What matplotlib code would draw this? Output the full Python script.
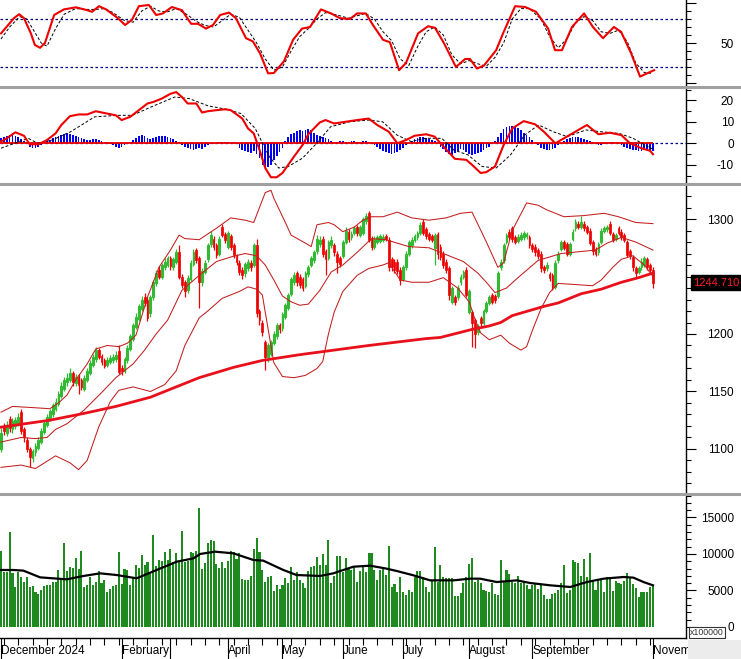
import numpy as np
import matplotlib
matplotlib.use('Agg')
import matplotlib.pyplot as plt
from matplotlib.lines import Line2D
from matplotlib.patches import Rectangle

plt.rcParams['font.family'] = ['Liberation Sans', 'DejaVu Sans']

# ---- daily candles (one per trading day) ----
opens = [1100,1120,1114,1126,1117,1120,1123,1132,1117,1108,
         1100,1092,1097,1101,1106,1115,1121,1126,1130,1135,
         1139,1146,1152,1158,1160,1166,1157,1163,1160,1152,
         1160,1166,1173,1178,1186,1181,1177,1173,1176,1177,
         1178,1185,1170,1168,1177,1187,1196,1206,1213,1222,
         1232,1230,1218,1232,1244,1256,1250,1258,1260,1266,
         1258,1263,1271,1250,1245,1238,1248,1261,1273,1266,
         1245,1254,1265,1278,1283,1277,1270,1293,1287,1276,
         1285,1277,1268,1262,1256,1253,1257,1262,1260,1277,
         1220,1210,1193,1180,1183,1192,1198,1208,1205,1215,
         1223,1235,1245,1253,1250,1248,1242,1252,1260,1264,
         1272,1278,1283,1272,1266,1277,1277,1270,1266,1268,
         1280,1289,1284,1288,1293,1286,1288,1298,1305,1283,
         1276,1280,1281,1282,1285,1282,1265,1263,1263,1256,
         1248,1258,1270,1277,1282,1284,1288,1297,1291,1287,
         1285,1275,1287,1276,1270,1263,1257,1228,1232,1232,
         1245,1250,1256,1219,1219,1212,1202,1214,1210,1220,
         1227,1234,1233,1233,1258,1264,1280,1289,1292,1284,
         1281,1283,1284,1285,1284,1277,1276,1273,1270,1258,
         1257,1252,1251,1241,1264,1274,1280,1278,1270,1283,
         1292,1296,1293,1296,1293,1290,1280,1274,1271,1280,
         1290,1291,1296,1287,1283,1292,1289,1286,1280,1272,
         1267,1257,1254,1258,1260,1265,1260,1256]
highs = [1118,1123,1124,1129,1127,1128,1131,1135,1119,1110,
         1102,1100,1105,1110,1118,1125,1130,1135,1140,1144,
         1150,1158,1163,1166,1170,1168,1165,1165,1162,1164,
         1170,1177,1183,1189,1188,1183,1179,1180,1182,1183,
         1185,1190,1173,1180,1190,1200,1210,1218,1226,1233,
         1236,1232,1234,1247,1256,1259,1262,1266,1268,1268,
         1267,1274,1277,1252,1247,1251,1264,1274,1275,1268,
         1257,1264,1279,1290,1285,1279,1285,1296,1289,1290,
         1287,1279,1270,1264,1258,1263,1265,1264,1279,1283,
         1222,1212,1195,1192,1195,1203,1210,1210,1219,1227,
         1236,1250,1254,1255,1252,1250,1255,1260,1268,1273,
         1286,1285,1285,1274,1282,1285,1279,1272,1268,1282,
         1293,1291,1290,1294,1295,1295,1302,1305,1307,1285,
         1285,1286,1287,1287,1287,1284,1267,1265,1265,1258,
         1260,1272,1282,1284,1287,1290,1297,1300,1293,1289,
         1287,1288,1289,1278,1272,1265,1259,1242,1234,1243,
         1252,1256,1258,1239,1221,1214,1209,1216,1222,1229,
         1234,1236,1235,1255,1265,1279,1288,1291,1294,1286,
         1287,1289,1290,1289,1286,1279,1278,1275,1272,1260,
         1263,1254,1253,1264,1272,1282,1282,1280,1280,1291,
         1300,1298,1303,1298,1295,1292,1282,1276,1280,1292,
         1294,1295,1298,1289,1288,1294,1291,1288,1282,1274,
         1269,1259,1259,1266,1268,1267,1262,1258]
lows = [1097,1112,1111,1115,1114,1117,1120,1113,1106,1097,
        1084,1089,1094,1099,1104,1113,1119,1124,1128,1133,
        1137,1144,1150,1155,1158,1155,1155,1148,1151,1150,
        1158,1164,1171,1176,1178,1173,1170,1171,1174,1175,
        1176,1165,1164,1166,1175,1185,1194,1204,1211,1220,
        1224,1211,1215,1230,1242,1248,1248,1256,1258,1256,
        1256,1261,1248,1240,1232,1236,1246,1259,1262,1223,
        1242,1252,1263,1276,1273,1266,1268,1284,1279,1274,
        1273,1266,1260,1251,1248,1250,1255,1255,1258,1215,
        1208,1198,1169,1176,1181,1190,1196,1201,1203,1213,
        1221,1233,1243,1242,1240,1237,1240,1250,1258,1262,
        1270,1276,1267,1251,1264,1275,1268,1253,1258,1266,
        1278,1280,1282,1286,1285,1284,1286,1296,1280,1273,
        1274,1278,1279,1280,1281,1255,1255,1253,1252,1243,
        1246,1256,1268,1275,1280,1282,1286,1286,1283,1281,
        1280,1260,1265,1264,1257,1253,1230,1226,1225,1230,
        1243,1248,1232,1217,1189,1188,1199,1207,1208,1218,
        1225,1226,1227,1231,1256,1262,1278,1282,1280,1278,
        1279,1281,1282,1283,1275,1271,1268,1265,1254,1253,
        1255,1246,1238,1239,1262,1272,1273,1268,1268,1281,
        1290,1291,1291,1290,1287,1277,1269,1268,1269,1278,
        1288,1289,1286,1280,1281,1286,1282,1280,1267,1265,
        1255,1250,1252,1256,1258,1256,1254,1240]
closes = [1114,1116,1121,1118,1124,1125,1128,1116,1110,1100,
          1093,1098,1103,1108,1116,1123,1128,1133,1138,1141,
          1148,1155,1160,1162,1166,1158,1163,1156,1154,1162,
          1168,1175,1180,1186,1180,1176,1172,1177,1179,1180,
          1182,1167,1168,1178,1188,1198,1208,1215,1224,1230,
          1227,1214,1232,1245,1253,1250,1260,1263,1266,1259,
          1265,1271,1250,1243,1237,1249,1262,1271,1264,1245,
          1255,1262,1277,1286,1276,1269,1283,1286,1282,1288,
          1276,1269,1263,1254,1251,1261,1263,1258,1277,1218,
          1212,1202,1180,1190,1193,1200,1208,1204,1217,1225,
          1234,1248,1251,1245,1243,1240,1253,1258,1266,1271,
          1283,1282,1270,1265,1280,1282,1271,1263,1261,1280,
          1290,1283,1287,1292,1288,1293,1300,1303,1282,1276,
          1283,1284,1285,1284,1283,1258,1258,1256,1255,1247,
          1258,1270,1280,1282,1285,1288,1295,1288,1285,1283,
          1282,1286,1270,1267,1260,1256,1234,1240,1228,1240,
          1250,1254,1234,1237,1210,1200,1207,1210,1220,1227,
          1232,1228,1230,1253,1263,1277,1286,1284,1283,1280,
          1284,1286,1288,1287,1277,1274,1271,1268,1257,1256,
          1260,1249,1241,1262,1270,1280,1275,1270,1278,1289,
          1297,1293,1297,1292,1289,1279,1272,1270,1278,1290,
          1292,1293,1288,1282,1286,1288,1284,1282,1269,1268,
          1258,1253,1257,1263,1266,1258,1256,1244.71]

volume = [10400,7580,7580,13060,7350,5520,7580,6800,6210,6900,
          5520,5600,4800,4520,5070,5600,5750,5750,6210,6210,
          7800,6440,11550,7700,8170,8030,9400,7900,10400,5520,
          5750,6900,5750,6210,7700,6070,6440,4840,5160,5600,
          5750,10320,5890,7900,7800,5750,6800,8490,8030,9860,
          8490,8950,7580,12600,8360,9180,9090,10320,9180,10640,
          8950,10090,8950,13200,8950,9090,10320,10180,10460,16250,
          7990,8720,11460,11920,11830,8630,8030,8950,8030,9090,
          10400,10320,9270,10090,6530,6440,6440,6990,10640,12150,
          10320,7800,6210,6800,6990,4980,5750,5200,5750,6670,
          6070,8170,6440,7580,6440,6070,5300,7670,8170,8360,
          9630,8490,10000,8490,11920,6070,6990,9730,9730,7580,
          9400,7900,7800,8260,6210,7700,8490,7580,10090,10090,
          7800,6440,7800,8170,7120,11100,5520,5890,4840,6800,
          4840,4380,5070,4840,6900,7700,7700,6800,5520,4840,
          6350,11000,6210,8490,6900,6670,6670,6670,4250,4250,
          4610,5980,6800,8630,9400,6210,6440,5980,5070,4980,
          4840,6070,4520,4380,9180,6210,7800,7260,6210,5980,
          6990,5980,6350,5750,5160,5750,5980,5160,5890,4380,
          3790,3790,4520,4610,5070,5980,8490,4700,5070,9180,
          8950,8810,6990,9270,6800,10090,6350,5070,6440,6530,
          4840,6800,6800,4980,6350,6070,5890,6350,7350,6800,
          5890,5300,4160,4840,4840,4840,5520,5750]

macd_hist = [2.5,3,3.5,4,4,3.5,3,2,1,
             -0.5,-1.5,-2,-2,-1.5,-1,0.5,
             1,1.5,2.5,3,3.5,4,4.5,5,4.5,4,3.5,3,
             2.5,2,1.5,1.5,2,2,1.5,1,0.5,0.5,
             -0.5,-1,-1.5,-2,-1.5,-1,-0.5,0.5,
             1.5,2.5,3.5,4,3.5,2.5,2,2.5,3,3.5,3.5,3.5,3,2.5,2,1,0.5,
             -1,-1.5,-2,-2.5,-3,-2.5,-2,-2.5,-1.5,-1,-0.5,-0.5,0,
             0.5,0.5,0.5,0.5,0,0.5,-0.5,
             -2,-3,-3.5,-4,-4.5,-3.5,-5,
             -7,-10,-11,-11,-10,-8,
             -6,-4,-2,
             1,3,4.5,5,5.5,6,5.5,6,6.5,6,5,4,3.5,3,2.5,2,1,
             0.5,0.5,1,1,0.5,0.5,1,1,0.5,0.5,1,1,0.5,0,
             -1,-1.5,-2.5,-3.5,-4,-4.5,-5,-4.5,-4,-3,-2,-1,0,
             1,2,2.5,3,3,2.5,2,1.5,1,0,
             -1.5,-2.5,-4,-5,-5.5,-4.5,-3.5,-2.5,-3,-4,-5,-5.5,-5,-4.5,-4,-3,-2,-1.5,-0.5,
             1,3,5,6.5,7.5,8,8,7.5,7,6,5,4,3,1.5,
             0,-1,-2,-2.5,-3,-3,-2.5,-2,-1,0,
             1,2,2.5,3,3,3,2.5,2,1.5,1,0.5,
             -0.5,-1,-1,-0.5,0,0.5,0.5,0,-0.5,-1,-1.5,-2,
             -2.5,-3,-3,-3.5,-3.5,-3,-3,-3.5,-3.5]

# ---- indicator curves read at sample days ----
bb_up_x = [0,4,11,17,20,23,26,30,33,37,41,44,47,51,55,59,62,64,69,75,80,85,88,92,94,95,
           99,101,106,108,110,114,116,119,123,126,129,133,138,143,149,155,160,164,169,173,
           175,178,183,187,190,196,203,210,215,221,227]
bb_up = [1132,1137,1136,1135,1140,1147,1160,1174,1187,1190,1189,1192,1199,1232,1258,1273,1286,1283,
         1282,1292,1301,1299,1297,1323,1325,1318,1297,1286,1279,1276,1295,1297,1295,1289,1293,1299,
         1302,1302,1306,1301,1299,1301,1305,1306,1280,1258,1262,1290,1314,1312,1308,1302,1303,1305,
         1302,1297,1296]
bb_mid_x = [0,7,12,16,19,23,29,35,40,46,50,54,58,63,69,75,80,85,89,92,95,98,101,104,107,111,115,
            119,124,129,134,138,142,149,155,161,166,169,172,176,180,187,195,203,207,211,216,221,227]
bb_mid = [1106,1110,1109,1110,1117,1122,1134,1149,1162,1174,1186,1200,1212,1238,1251,1263,1267,1270,
          1268,1260,1247,1233,1228,1225,1226,1238,1254,1260,1271,1283,1282,1279,1276,1275,1269,1263,
          1253,1245,1236,1240,1249,1264,1270,1272,1273,1279,1284,1280,1273]
bb_low_x = [0,7,12,19,24,27,30,34,38,41,46,52,57,61,64,69,72,77,83,86,89,91,92,95,98,102,106,110,
            112,114,116,119,124,128,133,135,139,143,149,154,159,163,165,167,170,174,177,181,183,185,
            188,191,194,200,206,209,213,216,220,224,227]
bb_low = [1084,1086,1083,1094,1088,1082,1090,1119,1141,1151,1154,1150,1156,1168,1190,1214,1220,1231,
          1237,1241,1239,1234,1219,1175,1163,1162,1164,1170,1176,1200,1219,1237,1251,1257,1260,1262,
          1247,1245,1245,1249,1240,1228,1213,1201,1195,1199,1192,1186,1189,1203,1222,1236,1244,1243,
          1242,1247,1258,1265,1268,1260,1250]
ma_x = [0,17,29,40,52,61,69,81,91,104,116,128,138,148,153,164,170,174,178,189,194,202,209,216,222,227]
ma_long = [1119,1125,1131,1137,1145,1154,1162,1171,1177,1182,1186,1190,1193,1196,1197,1204,1207,1210,
           1216,1224,1227,1235,1239,1245,1249,1253]

stoch_k_x = [0,4.5,6.3,8,10.4,11.8,13.6,15.3,18.5,21.9,26.1,30,31.7,34.1,36.6,40.7,43.2,45.6,48,51.5,
             54,56.4,59.5,63,66.2,68.6,71.4,73.8,76.3,79.4,81.8,85.3,87.7,90.2,93,95,98.5,101.7,104.8,
             107.6,111.4,114.9,118,121.5,124,127,129.5,133,135.4,138.6,141,145.2,148.7,151.1,154.2,
             158.4,161.6,163.3,165.7,168.2,172.4,174.8,179,182.5,186.3,190.5,192.9,195.3,198.8,203,
             206.1,209.6,213.4,215.9,219.4,222.5,224.9,227.4]
stoch_k = [62,81,86,81,62,47.5,44,50,85,92,94.6,91,89,96,92,81,72.5,79,96,97.5,
           85,87,95,91,74,74,68,72.5,85,88,81,56,52,37,12,12.5,27,54,68,
           70,92,87,81,80,87,87,72.5,54,51,16,25,62,71,69,50,
           20,30,30,18,22,41,62,96,95,89,68,41,41,70,87,
           70,56,70,64,37,8,12,16]
stoch_d_x = [0,3,6.5,9,12,14,16,19,22,26,30,33,36,39,43,46,49,52,55,58,61,65,68,71,74,77,80,83,86,89,
             92,95,98,101,104,107,110,113,117,121,124,127,130,133,136,139,142,145,148,151,154,157,160,
             163,166,169,172,175,178,181,184,188,191,194,197,200,203,206,209,212,215,218,221,224,227]
stoch_d = [55,70,83,80,62,50,46,68,86,93,92,92,93,88,78,76,90,96,90,89,93,85,77,72,70,78,86,82,66,50,
           30,16,20,40,58,68,80,88,85,81,84,87,80,64,53,30,22,45,64,70,60,35,24,
           28,24,21,32,50,80,93,93,80,58,44,55,75,83,78,64,62,66,52,25,13,12]

macd_x = [0,2,5,8,10,13,16,19,21,24,27,30,33,37,40,42,45,48,51,53,56,59,61,63,65,68,70,72,75,78,80,
          84,86,88,90,92,94,96,98,102,105,107,111,113,116,120,124,128,131,135,138,141,144,148,151,
          153,158,162,164,167,169,172,175,178,182,186,189,193,196,200,204,208,212,216,219,223,226,227]
macd_line = [0.8,2.3,5.1,3.5,-0.5,-0.5,1.5,4.6,8.5,12.6,13.4,13.4,14.9,13.8,13,10.8,12.3,15.4,18.5,
             19.2,20.8,23,23.8,21.5,18.5,18.5,14.3,14.9,15.4,15.8,15.4,11.5,6.9,4.6,-3,-11.5,-15.8,
             -15.8,-13.8,-6.2,-0.8,4.2,9.7,10.8,9.2,10,10.8,11.5,8.5,5.4,0,1.5,3.5,4.2,3.1,
             0,-7.2,-7.7,-10,-13.8,-13.4,-10.8,-0.8,6.9,10.3,8.8,5.4,0,2.3,5.4,8.5,4.2,4.9,3.8,0,
             -2.3,-3.5,-5.1]
signal_x = [0,9.5,12.8,17.8,24.3,32.6,40.8,45.7,52.3,60.5,65.5,72.1,78.6,83.6,88.5,93.4,96.7,100,105,
            109.9,114.8,121.4,128,132.9,137.9,142.8,147.8,153.5,157.6,162.6,167.5,172.4,177.4,182.3,
            187.2,192.2,197.1,203.7,208.6,215.2,220.1,225.1,227.6]
signal_line = [-2.3,2.3,0,1.5,5.4,12.3,13,13,16.9,21.5,20.8,17.4,15.8,13.8,6.9,-6.2,-11.5,-10.8,-6.9,
               0,7.7,10,10.8,10,3.8,0.8,2.3,2.3,-3.1,-5.4,-10.8,-11.5,-5.4,3.8,8.5,5.4,3.1,6.2,5.4,
               4.6,2.3,-1.5,-3.1]

vol_ma_x = [0,4.3,7.8,13.6,22.9,28.7,34.5,40.3,47.2,54.2,61.2,67,69.3,74.5,80.9,87.9,91.3,98.3,102.9,
            111.1,115.7,119.2,122.7,128.5,134.3,137.8,143.6,149.4,157.5,163.3,166.8,172.6,179.6,184.2,
            191.2,198.2,204,209.8,216.8,220.2,223.7,227]
vol_ma = [7810,7810,7720,6800,6530,6990,7350,7120,6670,7810,8950,9400,10000,10320,10090,9180,9090,7810,
          7120,6990,7350,7810,8260,8400,7990,7670,7080,6390,6390,6620,6620,6160,6390,6030,5710,5480,
          6160,6620,6850,6760,6160,5710]

month_pos = [0, 42, 59, 79, 98, 119, 140, 163, 185, 227]
month_lab = ['December 2024', 'February', '', 'April', 'May', 'June', 'July', 'August', 'September', 'November']

last_price = 1244.71

# ---- colours ----
green = '#34b934'
red = '#ee0000'
band = '#c41e1e'
vol_green = '#1f8a1f'

o = np.array(opens, float)
c = np.array(closes, float)
h = np.array(highs, float)
l = np.array(lows, float)
x = np.arange(len(c))
up = c >= o

fig = plt.figure(figsize=(7.41, 6.59), dpi=100)
W = 686 / 741


def panel(top, bottom):
    return fig.add_axes([0, 1 - bottom / 659, W, (bottom - top) / 659])


def right_axis(ax, ylim, major, labels, minor):
    ax.set_xlim(-0.35, 238.5)
    ax.set_ylim(*ylim)
    for s in ['left', 'top', 'bottom']:
        ax.spines[s].set_visible(False)
    ax.spines['right'].set_linewidth(1.0)
    ax.yaxis.tick_right()
    ax.set_yticks(major)
    ax.set_yticklabels(labels)
    ax.set_yticks(minor, minor=True)
    ax.tick_params(axis='y', which='major', direction='out', length=7, width=0.8,
                   pad=27.5, labelsize=8.5)
    ax.tick_params(axis='y', which='minor', direction='out', length=3.5, width=0.8)
    for t in ax.get_yticklabels():
        t.set_horizontalalignment('right')
    ax.set_xticks([])


ax1 = panel(0, 86)
ax2 = panel(88, 182)
ax3 = panel(185, 493)
ax4 = panel(495, 638)

# stochastic
ax1.axhline(80, color='#000080', lw=0.9, ls=(0, (2, 2)))
ax1.axhline(20, color='#000080', lw=0.9, ls=(0, (2, 2)))
ax1.plot(stoch_d_x, stoch_d, color='black', lw=0.7, ls=(0, (3, 2)))
ax1.plot(stoch_k_x, stoch_k, color=red, lw=1.5)
right_axis(ax1, (-3.75, 103.75), [0, 50, 100], ['', '50', ''],
           [10, 20, 30, 40, 60, 70, 80, 90])

# MACD
ax2.axhline(0, color='#000080', lw=0.9, ls=(0, (2, 2)))
ax2.bar(x, macd_hist, width=0.6, color='#0000ee')
ax2.hlines(0, -0.35, x[-1], color=red, lw=1.3)
ax2.plot(signal_x, signal_line, color='black', lw=0.7, ls=(0, (3, 2)))
ax2.plot(macd_x, macd_line, color=red, lw=1.5)
right_axis(ax2, (-18.0, 25.7), [-10, 0, 10, 20], ['-10', '0', '10', '20'],
           [-15, -5, 5, 15, 25])

# price candles + bands
ax3.vlines(x, l, h, colors=np.where(up, green, red), lw=0.9)
ax3.bar(x[up], (c - o)[up], bottom=o[up], width=0.62, facecolor='white',
        edgecolor=green, lw=0.8)
ax3.bar(x[~up], (o - c)[~up], bottom=c[~up], width=0.62, color=red, edgecolor=red, lw=0.5)
ax3.plot(bb_up_x, bb_up, color=band, lw=0.75)
ax3.plot(bb_mid_x, bb_mid, color=band, lw=0.75)
ax3.plot(bb_low_x, bb_low, color=band, lw=0.75)
ax3.plot(ma_x, ma_long, color='#e8101a', lw=2.0)
# the 1250 label sits under the last-price tag in the original
right_axis(ax3, (1061.7, 1329.6), [1100, 1150, 1200, 1250, 1300],
           ['1100', '1150', '1200', '', '1300'],
           [v for v in range(1070, 1330, 10) if v % 50])
ax3.text(716 / 686, last_price, f'{last_price:.3f}', transform=ax3.get_yaxis_transform(),
         ha='center', va='center', fontsize=8, color='#ff2020', zorder=10,
         bbox=dict(boxstyle='square,pad=0.2', fc='black', ec='black'))

# volume
ax4.bar(x, volume, width=0.72, color=vol_green)
ax4.plot(vol_ma_x, vol_ma, color='black', lw=1.6)
right_axis(ax4, (-1507, 18082), [0, 5000, 10000, 15000], ['0', '5000', '10000', '15000'],
           [v for v in range(1000, 18001, 1000) if v % 5000])
ax4.spines['bottom'].set_visible(True)
ax4.spines['bottom'].set_linewidth(1.0)
ax4.set_xticks(month_pos)
ax4.set_xticklabels(month_lab)
ax4.set_xticks(np.arange(1, 228, 5), minor=True)
ax4.tick_params(axis='x', which='major', direction='out', length=15, width=0.8,
                pad=-10, labelsize=8.5)
ax4.tick_params(axis='x', which='minor', direction='out', length=5, width=0.8)
for t in ax4.get_xticklabels():
    t.set_horizontalalignment('left')

# panel separators
for yp in [87, 183.5, 494]:
    fig.add_artist(Line2D([0, 1], [1 - yp / 659] * 2, transform=fig.transFigure,
                          color='#a0a0a0', lw=2.2))

fig.add_artist(Rectangle((688 / 741, 0), 53 / 741, 19.5 / 659, transform=fig.transFigure,
                         facecolor='#ececec', edgecolor='none', zorder=5))
fig.text(707 / 741, 1 - 632.5 / 659, 'x100000', ha='center', va='center', fontsize=6.3,
         color='#333333', zorder=6,
         bbox=dict(boxstyle='square,pad=0.15', fc='white', ec='#333333', lw=0.8))

fig.savefig('out.png', dpi=100)
